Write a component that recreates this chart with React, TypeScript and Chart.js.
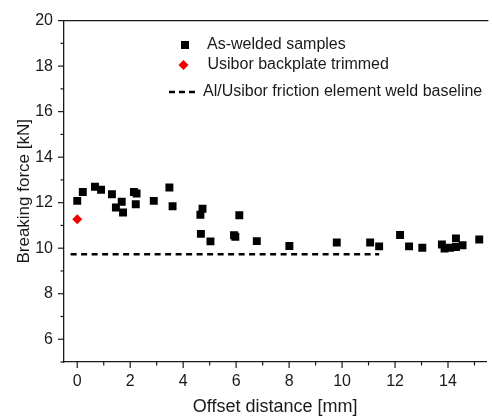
import React, { useEffect, useRef } from "react";
import { Chart, registerables } from "chart.js";

Chart.register(...registerables);

const asWeldedX = [0, 0.21, 0.67, 0.9, 1.31, 1.46, 1.68, 1.73, 2.14, 2.21, 2.24, 2.89, 3.48, 3.6, 4.65, 4.67, 4.73, 5.03, 5.92, 5.97, 6.12, 6.78, 8.01, 9.8, 11.06, 11.4, 12.19, 12.53, 13.03, 13.77, 13.87, 14.08, 14.3, 14.3, 14.55, 15.18];
const asWeldedY = [12.08, 12.47, 12.7, 12.57, 12.37, 11.79, 12.04, 11.57, 12.47, 11.93, 12.4, 12.08, 12.67, 11.84, 11.47, 10.63, 11.73, 10.3, 10.57, 10.5, 11.45, 10.31, 10.1, 10.25, 10.25, 10.08, 10.58, 10.08, 10.02, 10.16, 9.99, 10.02, 10.43, 10.05, 10.13, 10.38];
const trimmedX = [0];
const trimmedY = [11.27];
const baselineX = [-0.25, 11.4];
const baselineY = [9.73, 9.73];

const seriesLabels = [
  "As-welded samples",
  "Usibor backplate trimmed",
  "Al/Usibor friction element weld baseline",
];

const FONT = "'Liberation Sans', Arial, sans-serif";
const INK = "#1a1a1a";

const framePlugin = {
  id: "frameAndTicks",
  afterDraw(chart: any) {
    const { ctx, chartArea, scales } = chart;
    ctx.save();
    ctx.strokeStyle = INK;
    ctx.lineWidth = 1.3;
    // top frame line
    ctx.beginPath();
    ctx.moveTo(chartArea.left, chartArea.top);
    ctx.lineTo(chartArea.right + 2, chartArea.top);
    ctx.stroke();
    ctx.lineWidth = 1.2;
    const xs = scales.x;
    for (const t of xs.ticks) {
      const v = t.value;
      if (Math.abs(v - Math.round(v)) > 1e-6) continue;
      const px = xs.getPixelForValue(v);
      const len = Math.round(v) % 2 === 0 ? 6 : 3.5;
      ctx.beginPath();
      ctx.moveTo(px, chartArea.bottom);
      ctx.lineTo(px, chartArea.bottom + len);
      ctx.stroke();
    }
    const ys = scales.y;
    for (const t of ys.ticks) {
      const v = t.value;
      if (Math.abs(v - Math.round(v)) > 1e-6) continue;
      const py = ys.getPixelForValue(v);
      const len = Math.round(v) % 2 === 0 ? 6 : 3.5;
      ctx.beginPath();
      ctx.moveTo(chartArea.left, py);
      ctx.lineTo(chartArea.left - len, py);
      ctx.stroke();
    }

    // legend
    ctx.font = `16px ${FONT}`;
    ctx.fillStyle = INK;
    ctx.textBaseline = "middle";
    ctx.textAlign = "left";
    // square
    ctx.fillStyle = "#000";
    ctx.fillRect(185 - 4, 45 - 4, 8, 8);
    ctx.fillStyle = INK;
    ctx.fillText(seriesLabels[0], 207, 45);
    // diamond
    ctx.fillStyle = "#ee0000";
    ctx.beginPath();
    ctx.moveTo(183.5, 65 - 5);
    ctx.lineTo(183.5 + 5, 65);
    ctx.lineTo(183.5, 65 + 5);
    ctx.lineTo(183.5 - 5, 65);
    ctx.closePath();
    ctx.fill();
    ctx.fillStyle = INK;
    ctx.fillText(seriesLabels[1], 207.5, 65);
    // dashed line
    ctx.strokeStyle = "#000";
    ctx.lineWidth = 2.5;
    ctx.setLineDash([6, 4]);
    ctx.beginPath();
    ctx.moveTo(169, 92);
    ctx.lineTo(196, 92);
    ctx.stroke();
    ctx.setLineDash([]);
    ctx.fillText(seriesLabels[2], 203, 92);
    ctx.restore();
  },
};

export default function App() {
  const ref = useRef<HTMLCanvasElement | null>(null);
  useEffect(() => {
    if (!ref.current) return;
    const chart = new Chart(ref.current, {
      type: "scatter",
      data: {
        datasets: [
          {
            label: seriesLabels[0],
            data: asWeldedX.map((x, i) => ({ x, y: asWeldedY[i] })),
            pointStyle: "rect",
            pointRadius: 5.6,
            pointBackgroundColor: "#000",
            pointBorderColor: "#000",
            pointBorderWidth: 0,
          },
          {
            label: seriesLabels[1],
            data: trimmedX.map((x, i) => ({ x, y: trimmedY[i] })),
            pointStyle: "rectRot",
            pointRadius: 5,
            pointBackgroundColor: "#ee0000",
            pointBorderColor: "#ee0000",
            pointBorderWidth: 0,
          },
          {
            type: "line",
            label: seriesLabels[2],
            data: baselineX.map((x, i) => ({ x, y: baselineY[i] })),
            borderColor: "#000",
            borderWidth: 2.5,
            borderDash: [6, 4.5],
            pointRadius: 0,
            fill: false,
          } as any,
        ],
      },
      options: {
        animation: false,
        responsive: true,
        maintainAspectRatio: false,
        layout: { padding: { top: 17, right: 1, left: 0, bottom: 0 } },
        plugins: { legend: { display: false }, tooltip: { enabled: false } },
        scales: {
          x: {
            type: "linear",
            min: -0.5,
            max: 15.45,
            grid: { display: false, drawTicks: false },
            border: { display: true, color: INK, width: 1.3 },
            ticks: {
              stepSize: 1,
              includeBounds: false,
              autoSkip: false,
              maxRotation: 0,
              padding: 10,
              color: INK,
              font: { family: FONT, size: 16 },
              callback: (v: any) => (Math.round(v) === v && v % 2 === 0 ? String(v) : ""),
            },
            title: {
              display: true,
              text: "Offset distance [mm]",
              color: INK,
              font: { family: FONT, size: 18 },
              padding: { top: 0, bottom: 0 },
            },
            afterFit: (s: any) => {
              s.height = 56;
            },
          },
          y: {
            type: "linear",
            min: 5,
            max: 20,
            grid: { display: false, drawTicks: false },
            border: { display: true, color: INK, width: 1.3 },
            ticks: {
              stepSize: 1,
              includeBounds: false,
              autoSkip: false,
              padding: 11,
              color: INK,
              font: { family: FONT, size: 16 },
              callback: (v: any) => (Math.round(v) === v && v % 2 === 0 ? String(v) : ""),
            },
            title: {
              display: true,
              text: "Breaking force [kN]",
              color: INK,
              font: { family: FONT, size: 17 },
              padding: { top: 14, bottom: 0 },
            },
            afterFit: (s: any) => {
              s.width = 64;
            },
          },
        },
      },
      plugins: [framePlugin],
    });
    return () => chart.destroy();
  }, []);
  return (
    <div style={{ position: "fixed", left: 0, top: 0, width: 492, height: 418, background: "#fff" }}>
      <canvas ref={ref} />
    </div>
  );
}
